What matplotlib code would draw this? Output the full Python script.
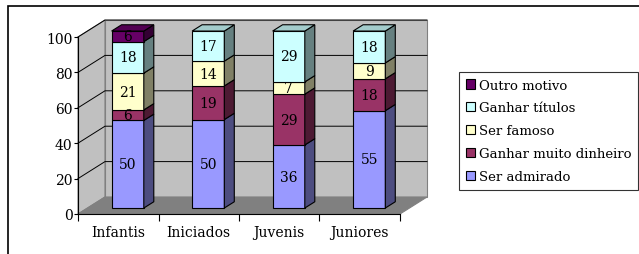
import matplotlib
matplotlib.use("Agg")
import matplotlib.pyplot as plt
from matplotlib.patches import Polygon, Rectangle, Patch
import numpy as np

plt.rcParams['font.family'] = ['DejaVu Serif']

# data (percent, 100% stacked)
categorias = ["Infantis", "Iniciados", "Juvenis", "Juniores"]
ser_admirado = [50, 50, 36, 55]
muito_dinheiro = [6, 19, 29, 18]
ser_famoso = [21, 14, 7, 9]
ganhar_titulos = [18, 17, 29, 18]
outro_motivo = [6, 0, 0, 0]

series = [ser_admirado, muito_dinheiro, ser_famoso, ganhar_titulos, outro_motivo]
nomes = ["Ser admirado", "Ganhar muito dinheiro", "Ser famoso", "Ganhar títulos", "Outro motivo"]
frente = ["#9999FF", "#993366", "#FFFFCC", "#CCFFFF", "#660066"]
lado = ["#4D4D80", "#4D1A33", "#808066", "#668080", "#330033"]
topo = ["#7A7ACC", "#7A2952", "#CCCCA3", "#A3CCCC", "#520052"]

totais = np.sum(np.array(series, dtype=float), axis=0)

W, H = 639, 255
fig = plt.figure(figsize=(W / 100, H / 100), dpi=100)
ax = fig.add_axes([78 / W, 40 / H, 322 / W, 177 / H])
ax.set_xlim(0, 4)
ax.set_ylim(0, 100)

# depth of the 3d box in data units
ddx = 27 / 80.5
ddy = 17 / 1.77
f1, f2 = 0.35, 0.72
bw = 0.4

# walls and floor
ax.add_patch(Polygon([(0, 0), (0, 100), (ddx, 100 + ddy), (ddx, ddy)],
                     closed=True, fc="#C0C0C0", ec="#808080", lw=0.8, clip_on=False, zorder=0))
ax.add_patch(Polygon([(ddx, ddy), (ddx, 100 + ddy), (4 + ddx, 100 + ddy), (4 + ddx, ddy)],
                     closed=True, fc="#C0C0C0", ec="#808080", lw=0.8, clip_on=False, zorder=0))
ax.add_patch(Polygon([(0, 0), (4, 0), (4 + ddx, ddy), (ddx, ddy)],
                     closed=True, fc="#808080", ec="#808080", lw=0.8, clip_on=False, zorder=0))
for v in range(20, 101, 20):
    ax.plot([0, ddx, 4 + ddx], [v, v + ddy, v + ddy], color="black", lw=0.7,
            clip_on=False, zorder=1)

# stacked 3d bars
base = np.zeros(len(categorias))
s = f2 - f1
for k, vals in enumerate(series):
    for i, v in enumerate(vals):
        if v == 0:
            continue
        h = v / totais[i] * 100
        xc = i + 0.5 + f1 * ddx
        b = base[i] + f1 * ddy
        t = b + h
        ax.bar(xc, h, bottom=b, width=bw, color=frente[k], edgecolor="black",
               lw=0.8, zorder=3, clip_on=False)
        xr = xc + bw / 2
        ax.add_patch(Polygon([(xr, b), (xr + s * ddx, b + s * ddy),
                              (xr + s * ddx, t + s * ddy), (xr, t)],
                             closed=True, fc=lado[k], ec="black", lw=0.8,
                             zorder=3, clip_on=False))
        if all(series[j][i] == 0 for j in range(k + 1, len(series))):
            xl = xc - bw / 2
            ax.add_patch(Polygon([(xl, t), (xr, t), (xr + s * ddx, t + s * ddy),
                                  (xl + s * ddx, t + s * ddy)],
                                 closed=True, fc=topo[k], ec="black", lw=0.8,
                                 zorder=3, clip_on=False))
        ax.text(xc, b + h / 2, str(v), ha="center", va="center", fontsize=10,
                zorder=4)
        base[i] += h

# axes
for sp in ["top", "right"]:
    ax.spines[sp].set_visible(False)
ax.spines["left"].set_linewidth(0.8)
ax.spines["bottom"].set_linewidth(0.8)
ax.spines["left"].set_zorder(2)
ax.spines["bottom"].set_zorder(2)
ax.set_yticks(range(0, 101, 20))
ax.tick_params(axis="y", length=3, width=0.8, labelsize=10, pad=1)
ax.set_xticks(range(0, 5))
ax.set_xticklabels([])
ax.set_xticks(np.arange(0.5, 4, 1), minor=True)
ax.set_xticklabels(categorias, minor=True)
ax.tick_params(axis="x", which="major", length=5, width=0.8)
ax.tick_params(axis="x", which="minor", length=0, labelsize=10, pad=8)
ax.set_facecolor("none")

# legend
handles = [Patch(fc=frente[k], ec="black", lw=0.8) for k in range(len(nomes))][::-1]
leg = fig.legend(handles, nomes[::-1], loc="upper left",
                 bbox_to_anchor=(459 / W, 1 - 73 / H), fontsize=9.5,
                 frameon=True, fancybox=False, edgecolor="black",
                 handlelength=0.7, handleheight=0.7, handletextpad=0.3,
                 labelspacing=0.75, borderpad=0.5, borderaxespad=0)
leg.get_frame().set_linewidth(0.8)

# outer border
fig.patches.append(Rectangle((8 / W, -0.5), 2, 0.5 + 1 - 7 / H, transform=fig.transFigure,
                             fill=False, ec="black", lw=1.2))

fig.savefig("out.png", dpi=100)
